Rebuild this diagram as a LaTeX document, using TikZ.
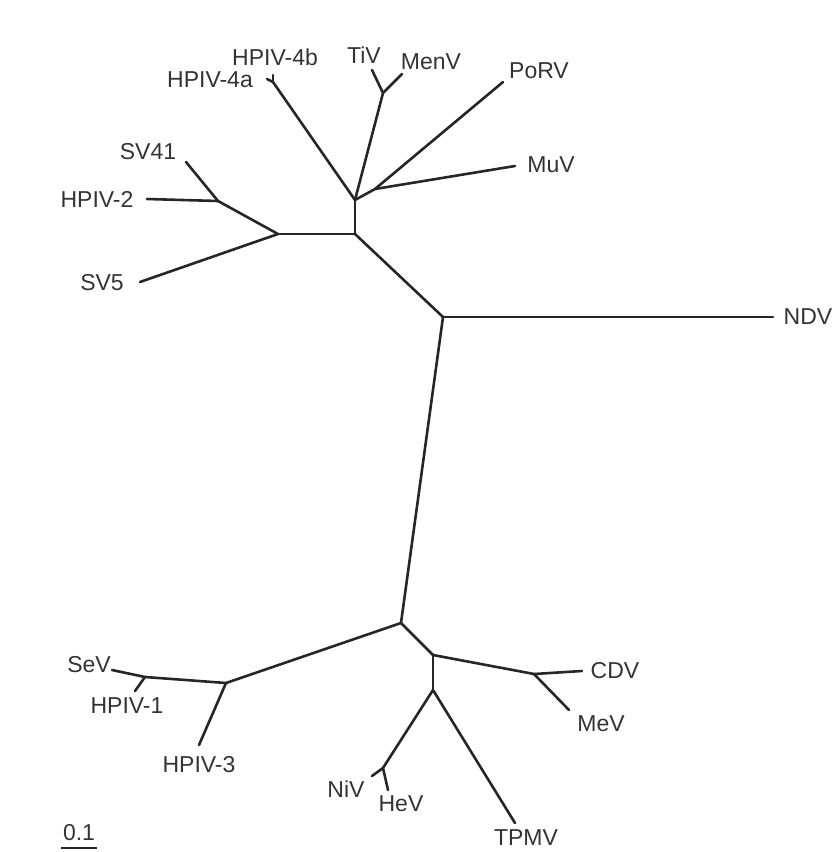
\documentclass[tikz,border=0pt]{standalone}
\usepackage{fontspec}
\setmainfont{Liberation Sans}
\begin{document}
\begin{tikzpicture}[x=1pt,y=-1pt,
  branch/.style={line width=2.6pt,draw=black!85,line cap=round,line join=round},
  lab/.style={inner sep=0pt,text=black!80,font=\fontsize{23}{25}\selectfont}]
\useasboundingbox (0,0) rectangle (835,852);
% internal nodes
\coordinate (A) at (355,234);
\coordinate (B) at (355,200);
\coordinate (C) at (278,234);
\coordinate (D) at (218,201);
\coordinate (H4) at (273,82);
\coordinate (TM) at (383,93);
\coordinate (E) at (375,189);
\coordinate (F) at (443,317);
\coordinate (G) at (401,623);
\coordinate (H) at (226,683);
\coordinate (I) at (145,677);
\coordinate (J) at (433,655);
\coordinate (K) at (534,674);
\coordinate (L) at (433,690);
\coordinate (M) at (383,768);
% tips
\coordinate (tSV41) at (186,162);
\coordinate (tHPIV2) at (147,199);
\coordinate (tSV5) at (140,282);
\coordinate (tH4a) at (267,79);
\coordinate (tH4b) at (273,75);
\coordinate (tTiV) at (372,70);
\coordinate (tMenV) at (402,74);
\coordinate (tPoRV) at (503,82);
\coordinate (tMuV) at (515,166);
\coordinate (tNDV) at (773,317);
\coordinate (tSeV) at (112,670);
\coordinate (tHPIV1) at (135,691);
\coordinate (tHPIV3) at (199,745);
\coordinate (tCDV) at (582,671);
\coordinate (tMeV) at (569,710);
\coordinate (tNiV) at (372,776);
\coordinate (tHeV) at (388,790);
\coordinate (tTPMV) at (515,823);
% branches
\draw[branch] (C) -- (A) -- (B);
\draw[branch] (C) -- (D);
\draw[branch] (D) -- (tSV41);
\draw[branch] (D) -- (tHPIV2);
\draw[branch] (C) -- (tSV5);
\draw[branch] (B) -- (H4);
\draw[branch] (H4) -- (tH4a);
\draw[branch] (H4) -- (tH4b);
\draw[branch] (B) -- (TM);
\draw[branch] (TM) -- (tTiV);
\draw[branch] (TM) -- (tMenV);
\draw[branch] (B) -- (E);
\draw[branch] (E) -- (tPoRV);
\draw[branch] (E) -- (tMuV);
\draw[branch] (A) -- (F);
\draw[branch] (F) -- (tNDV);
\draw[branch] (F) -- (G);
\draw[branch] (G) -- (H);
\draw[branch] (H) -- (I);
\draw[branch] (I) -- (tSeV);
\draw[branch] (I) -- (tHPIV1);
\draw[branch] (H) -- (tHPIV3);
\draw[branch] (G) -- (J);
\draw[branch] (J) -- (K);
\draw[branch] (K) -- (tCDV);
\draw[branch] (K) -- (tMeV);
\draw[branch] (J) -- (L);
\draw[branch] (L) -- (M);
\draw[branch] (M) -- (tNiV);
\draw[branch] (M) -- (tHeV);
\draw[branch] (L) -- (tTPMV);
% labels
\node[lab] (lH4b) at (275,57) {HPIV-4b};
\node[lab] (lH4a) at (210,80) {HPIV-4a};
\node[lab] (lTiV) at (364,55) {TiV};
\node[lab] (lMenV) at (431,62) {MenV};
\node[lab] (lPoRV) at (539,71) {PoRV};
\node[lab] (lMuV) at (551,165) {MuV};
\node[lab] (lSV41) at (148,152) {SV41};
\node[lab] (lHPIV2) at (97,199) {HPIV-2};
\node[lab] (lSV5) at (102,283) {SV5};
\node[lab] (lNDV) at (808,317) {NDV};
\node[lab] (lSeV) at (89,665) {SeV};
\node[lab] (lHPIV1) at (127,706) {HPIV-1};
\node[lab] (lHPIV3) at (199,765) {HPIV-3};
\node[lab] (lCDV) at (615,671) {CDV};
\node[lab] (lMeV) at (601,724) {MeV};
\node[lab] (lNiV) at (346,789) {NiV};
\node[lab] (lHeV) at (401,804) {HeV};
\node[lab] (lTPMV) at (526,838) {TPMV};
% scale bar
\node[lab] (lscale) at (79,833) {0.1};
\coordinate (s1) at (61,848);
\coordinate (s2) at (97,848);
\draw[line width=1.8pt,draw=black!85] (s1) -- (s2);
\end{tikzpicture}
\end{document}
